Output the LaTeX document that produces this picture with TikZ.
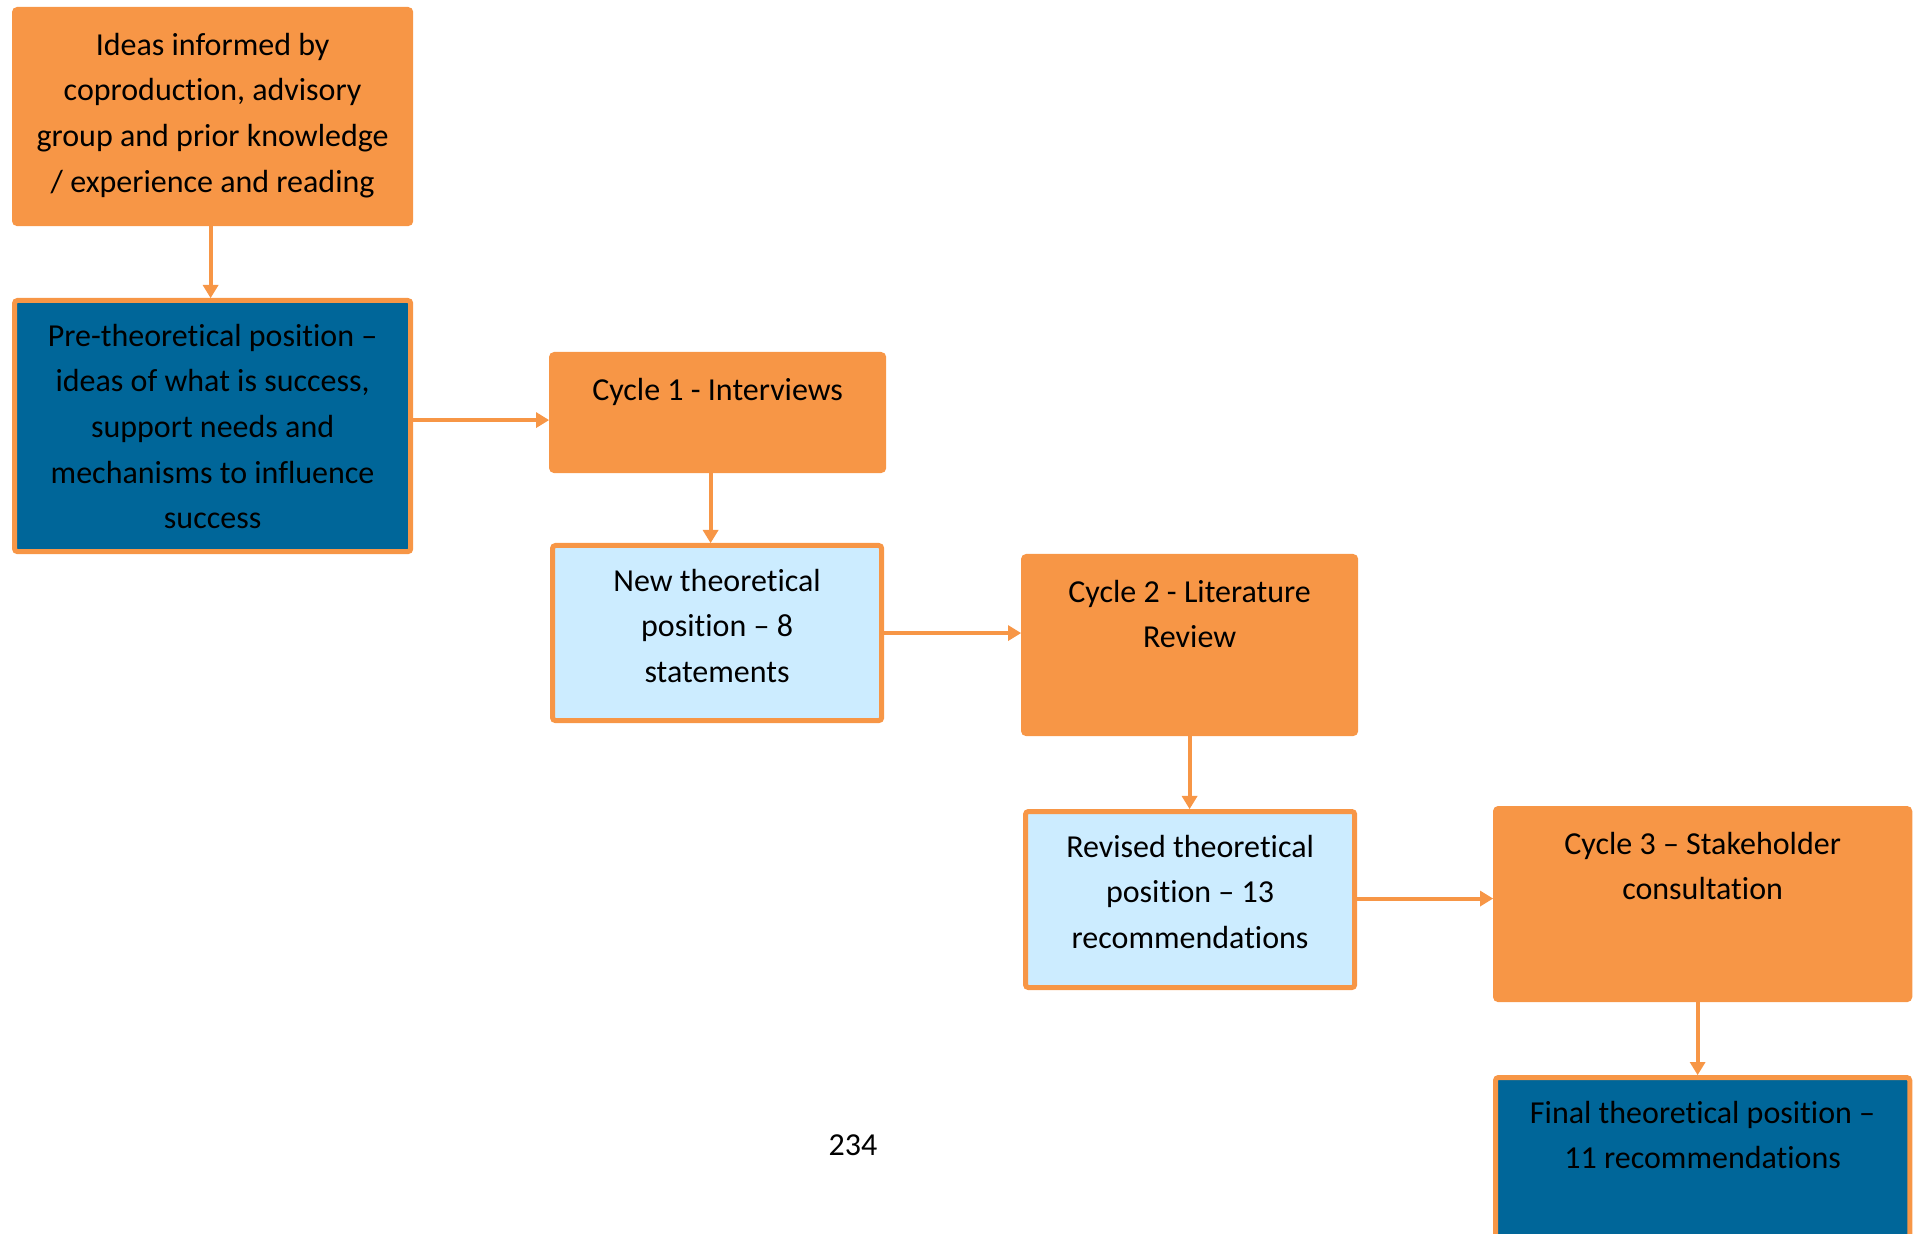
\documentclass[tikz,border=0pt]{standalone}
\usepackage{fontspec}
\setmainfont{Carlito}[Ligatures={TeX,NoCommon}]
\definecolor{orFill}{HTML}{F79646}
\definecolor{blFill}{HTML}{006699}
\definecolor{ltFill}{HTML}{CCECFF}
\newcommand\boxtxt[3]{\parbox[c][#2][t]{#1}{\centering\vspace*{0.135cm}\strut#3}}%文字靠上
\tikzset
{
  box0/.style={draw=orFill,fill=orFill,line width=0.05cm,rounded corners=0.03cm,inner sep=0pt,anchor=north west,font=\fontsize{9.1}{13}\selectfont},
  box1/.style={box0,fill=blFill},
  box2/.style={box0,fill=ltFill},
  line0/.style={orFill,line width=0.04cm},
  pics/arrowhead/.style={code=%箭头尖端在原点
  {
    \fill (0,0) --++ (-13,8) --++ (0,-16) -- cycle;
  }}
}
\begin{document}
\begin{tikzpicture}[x=0.01cm,y=-0.01cm]
\useasboundingbox (0,0) rectangle (1918,1234);
\node[box0] (ideas) at (12,7)       {\boxtxt{3.96cm}{2.14cm}{Ideas informed by\\coproduction, advisory\\group and prior knowledge\\/ experience and reading}};
\node[box1] (pre)   at (12,298)     {\boxtxt{3.96cm}{2.51cm}{Pre-theoretical position –\\ideas of what is success,\\support needs and\\mechanisms to influence\\success}};
\node[box0] (c1)    at (549,352)    {\boxtxt{3.32cm}{1.16cm}{Cycle 1 - Interviews}};
\node[box2] (new)   at (550,543)    {\boxtxt{3.29cm}{1.75cm}{New theoretical\\position – 8\\statements}};
\node[box0] (c2)    at (1021,554)   {\boxtxt{3.32cm}{1.77cm}{Cycle 2 - Literature\\Review}};
\node[box2] (rev)   at (1023,809)   {\boxtxt{3.29cm}{1.76cm}{Revised theoretical\\position – 13\\recommendations}};
\node[box0] (c3)    at (1493,806)   {\boxtxt{4.14cm}{1.91cm}{Cycle 3 – Stakeholder\\consultation}};
\node[box1] (fin)   at (1493,1075)  {\boxtxt{4.14cm}{1.70cm}{Final theoretical position –\\11 recommendations}};
\node[font=\fontsize{9.1}{13}\selectfont] (page) at (853,1145) {234};%页码
\foreach \a/\b/\s in {ideas/pre/-2,c1/new/-7,c2/rev/0,c3/fin/-5}
{
  \draw[line0,shorten >=0.06cm] ([xshift=\s*0.01cm]\a.south) -- ([xshift=\s*0.01cm]\a.south |- \b.north);
  \pic[line0,rotate=-90] at ([xshift=\s*0.01cm]\a.south |- \b.north) {arrowhead};%向下
}
\foreach \a/\b/\s in {pre/c1/6,new/c2/0,rev/c3/1}
{
  \draw[line0,shorten >=0.06cm] ([yshift=\s*0.01cm]\a.east) -- ([yshift=\s*0.01cm]\a.east -| \b.west);
  \pic[line0] at ([yshift=\s*0.01cm]\a.east -| \b.west) {arrowhead};%向右
}
\end{tikzpicture}
\end{document}
